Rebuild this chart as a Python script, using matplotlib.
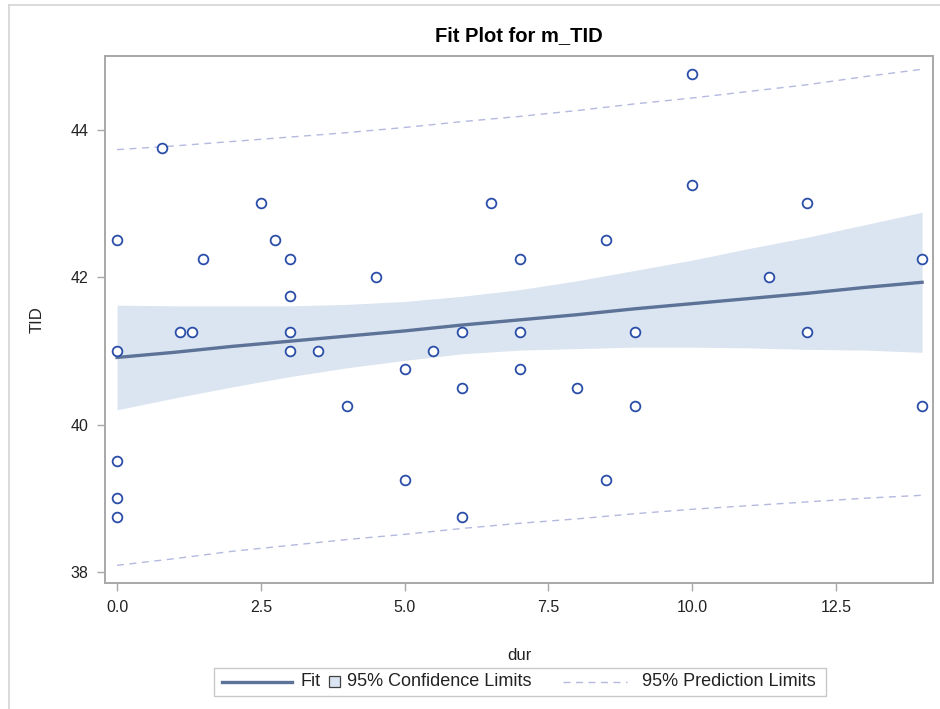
import numpy as np
import matplotlib
matplotlib.use("Agg")
import matplotlib.pyplot as plt
import matplotlib.patches as mpatches
from matplotlib.lines import Line2D

plt.rcParams['font.family'] = ['Liberation Sans', 'DejaVu Sans']

# ---- data ----
dur = [0, 0, 0, 0, 0, 0.78, 1.1, 1.3, 1.5, 2.5, 2.75, 3, 3, 3, 3, 3.5, 4, 4.5,
       5, 5, 5.5, 6, 6, 6, 6.5, 7, 7, 7, 8, 8.5, 8.5, 9, 9, 10, 10, 11.33,
       12, 12, 14, 14]
tid = [42.5, 41.0, 39.5, 39.0, 38.75, 43.75, 41.25, 41.25, 42.25, 43.0, 42.5,
       42.25, 41.75, 41.25, 41.0, 41.0, 40.25, 42.0, 40.75, 39.25, 41.0, 41.25,
       40.5, 38.75, 43.0, 42.25, 41.25, 40.75, 40.5, 42.5, 39.25, 41.25, 40.25,
       44.75, 43.25, 42.0, 43.0, 41.25, 42.25, 40.25]

# fitted line and limits, read at x = 0, 1, ..., 14
grid_x = [0, 1, 2, 3, 4, 5, 6, 7, 8, 9, 10, 11, 12, 13, 14]
fit_y = [40.91, 40.98, 41.06, 41.13, 41.20, 41.27, 41.35, 41.42, 41.49,
         41.57, 41.64, 41.71, 41.78, 41.86, 41.93]
cl_upper = [41.62, 41.61, 41.61, 41.61, 41.63, 41.67, 41.74, 41.83, 41.95,
            42.09, 42.23, 42.39, 42.54, 42.71, 42.88]
cl_lower = [40.20, 40.36, 40.51, 40.65, 40.77, 40.87, 40.96, 41.01, 41.03,
            41.05, 41.05, 41.04, 41.02, 41.01, 40.98]
pl_upper = [43.73, 43.78, 43.84, 43.90, 43.96, 44.03, 44.11, 44.18, 44.26,
            44.35, 44.43, 44.52, 44.61, 44.72, 44.82]
pl_lower = [38.09, 38.18, 38.28, 38.36, 38.44, 38.51, 38.59, 38.66, 38.72,
            38.79, 38.85, 38.90, 38.95, 39.00, 39.04]

xticks = [0.0, 2.5, 5.0, 7.5, 10.0, 12.5]
yticks = [38, 40, 42, 44]

# colours
c_band = '#dbe4f1'
c_fit = '#5d7297'
c_pred = '#b4b9df'
c_pt = '#2a4ea8'
c_axis = '#a8a8a8'
c_text = '#222222'

W, H = 940, 709
fig = plt.figure(figsize=(W / 100, H / 100), dpi=100)


def fx(px):
    return px / W


def fy(py):
    return 1 - py / H


ax = fig.add_axes([fx(105), fy(583), fx(933) - fx(105), fy(56) - fy(583)])

ax.fill_between(grid_x, cl_lower, cl_upper, color=c_band, lw=0, zorder=1)
ax.plot(grid_x, pl_upper, color=c_pred, lw=1.0, dashes=(5, 4), zorder=2)
ax.plot(grid_x, pl_lower, color=c_pred, lw=1.0, dashes=(5, 4), zorder=2)
ax.plot(grid_x, fit_y, color=c_fit, lw=2.4, zorder=3)
ax.plot(dur, tid, ls='none', marker='o', ms=7, mfc='white', mec=c_pt,
        mew=1.3, zorder=4)

ax.set_xlim(-0.21, 14.19)
ax.set_ylim(37.85, 45.0)
ax.set_xticks(xticks)
ax.set_xticklabels(['%.1f' % v for v in xticks])
ax.set_yticks(yticks)

for s in ax.spines.values():
    s.set_color(c_axis)
    s.set_linewidth(1.4)
ax.tick_params(direction='out', length=6, width=1, color=c_axis,
               labelsize=11.5, labelcolor=c_text, pad=6)

ax.set_xlabel('dur', fontsize=12, color=c_text, va='center')
ax.set_ylabel('TID', fontsize=12, color=c_text, va='center')
ax.xaxis.set_label_coords(0.5, (583 - 655) / 527)
ax.yaxis.set_label_coords((37 - 105) / 828, 0.5)

fig.text(fx(519), fy(36), 'Fit Plot for m_TID', ha='center', va='center',
         fontsize=14.5, fontweight='bold', color='black')

# outer frame of the output window
fig.add_artist(Line2D([fx(9), fx(940)], [fy(5), fy(5)], color='#d4d4d4', lw=1.2))
fig.add_artist(Line2D([fx(9), fx(9)], [fy(5), fy(709)], color='#d4d4d4', lw=1.2))

# legend drawn by hand (SAS style, one row)
ly = fy(682)
fig.add_artist(mpatches.Rectangle((fx(214), fy(696)), fx(826) - fx(214),
                                  fy(668) - fy(696), transform=fig.transFigure,
                                  facecolor='white', edgecolor='#c8c8c8', lw=1))
fig.add_artist(Line2D([fx(222), fx(292)], [ly, ly], color=c_fit, lw=2.4))
fig.text(fx(300), ly, 'Fit', ha='left', va='center', fontsize=13, color=c_text)
fig.add_artist(mpatches.Rectangle((fx(329), fy(687)), fx(340) - fx(329),
                                  fy(676) - fy(687), transform=fig.transFigure,
                                  facecolor=c_band, edgecolor='#404040', lw=0.9))
fig.text(fx(347), ly, '95% Confidence Limits', ha='left', va='center',
         fontsize=13, color=c_text)
fig.add_artist(Line2D([fx(563), fx(627)], [ly, ly], color=c_pred, lw=1.0,
                      dashes=(5, 4)))
fig.text(fx(642), ly, '95% Prediction Limits', ha='left', va='center',
         fontsize=13, color=c_text)

fig.savefig('out.png', dpi=100)
